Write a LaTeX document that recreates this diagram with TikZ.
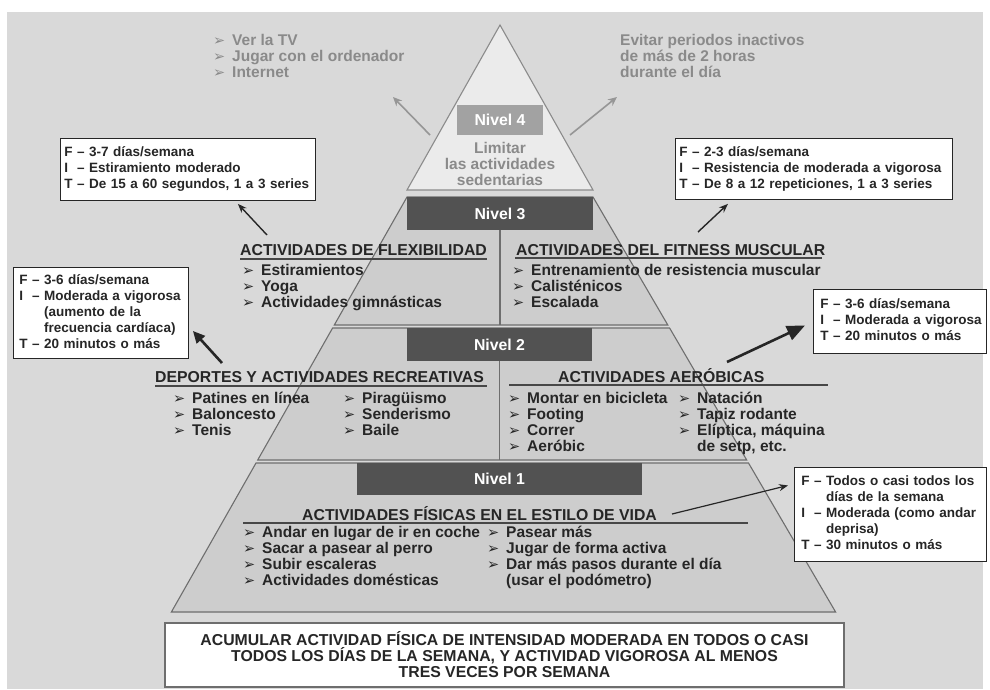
\documentclass[tikz,border=0pt]{standalone}
\usepackage{fontspec}
\setmainfont{Liberation Sans}
\newfontfamily\arrowfont{DejaVu Sans}
\usetikzlibrary{arrows.meta,positioning}

\definecolor{paper}{HTML}{D9D9D9}
\definecolor{bandgray}{HTML}{CDCDCD}
\definecolor{topgray}{HTML}{EBEBEB}
\definecolor{edgegray}{HTML}{6E6E6E}
\definecolor{bardark}{HTML}{525252}
\definecolor{barlight}{HTML}{A2A2A2}
\definecolor{softink}{HTML}{8A8A8A}
\definecolor{ink}{HTML}{262626}

\newcommand{\headtext}{\fontsize{15.8}{16}\selectfont\bfseries}
\newcommand{\itemtext}{\fontsize{15.5}{16.3}\selectfont\bfseries}
\newcommand{\boxtext}{\fontsize{13.5}{16}\selectfont\bfseries}
\newcommand{\itm}{\makebox[19pt][l]{\arrowfont\fontsize{14.5}{14.5}\selectfont ➢}}
\newcommand{\lst}[1]{\begin{tabular}[t]{@{}l@{}}#1\end{tabular}}
\newcommand{\fitlines}[1]{\begin{tabular}{@{}l@{\ }l@{\ }l@{}}#1\end{tabular}}

\begin{document}
\begin{tikzpicture}[x=1pt, y=-1pt,
    band/.style={fill=bandgray, draw=edgegray, line width=1.1pt},
    levelbar/.style={fill=bardark, text=white, font=\headtext, inner sep=0pt},
    heading/.style={anchor=base west, inner sep=0pt, font=\headtext, text=ink},
    items/.style={anchor=base west, inner sep=0pt, font=\itemtext, text=ink},
    note/.style={anchor=base west, inner sep=0pt, font=\itemtext, text=softink},
    infobox/.style={anchor=north west, draw=ink, fill=white, line width=0.9pt, align=left,
      font=\boxtext, text=ink, inner xsep=4pt, inner ysep=0pt},
    headrule/.style={draw=ink!85, line width=1.3pt},
    divider/.style={draw=edgegray, line width=1.1pt},
    pointer/.style={draw=ink, line width=1.4pt, -{Stealth[length=9pt, width=7pt]}},
    heavypointer/.style={draw=ink, line width=2.6pt, -{Triangle[length=12pt, width=11pt]}},
    softpointer/.style={draw=softink!90, line width=1.6pt, -{Stealth[length=9pt, width=8pt]}}]

  \useasboundingbox (0,0) rectangle (990,689);
  \fill[paper] (7,12) rectangle (983,689);

  % pyramid
  \draw[fill=topgray, draw=edgegray!80, line width=1.1pt] (500,25) -- (593,190) -- (407,190) -- cycle;
  \draw[band] (407,197) -- (593,197) -- (667.8,325) -- (334.3,325) -- cycle;
  \draw[band] (332.6,328) -- (669.6,328) -- (746.7,460) -- (257.7,460) -- cycle;
  \draw[band] (256,463) -- (748.5,463) -- (835.6,612) -- (171.4,612) -- cycle;

  \node[levelbar, fill=barlight, minimum width=86pt, minimum height=30pt] (lvlfour) at (500,120) {Nivel 4};
  \node[levelbar, minimum width=186pt, minimum height=33pt] (lvlthree) at (500,213.5) {Nivel 3};
  \node[levelbar, minimum width=185pt, minimum height=33pt] (lvltwo) at (499.5,344.5) {Nivel 2};
  \node[levelbar, minimum width=285pt, minimum height=32pt] (lvlone) at (499.5,479) {Nivel 1};
  \draw[divider] (lvlthree.south) -- ++(0,95);
  \draw[divider] (lvltwo.south) -- ++(0,99);

  \node[anchor=base, inner sep=0pt, font=\itemtext, text=softink] (limit) at (500,153)
    {\begin{tabular}[t]{@{}c@{}}Limitar\\las actividades\\sedentarias\end{tabular}};

  % sedentary notes
  \node[note] (screens) at (213,45) {\lst{\itm Ver la TV\\ \itm Jugar con el ordenador\\ \itm Internet}};
  \node[note] (breaks) at (620,45) {\lst{Evitar periodos inactivos\\de más de 2 horas\\durante el día}};
  \coordinate (screensfrom) at (430,135);
  \coordinate (screensto) at (393,97);
  \coordinate (breaksfrom) at (570,135);
  \coordinate (breaksto) at (617,97);
  \draw[softpointer] (screensfrom) -- (screensto);
  \draw[softpointer] (breaksfrom) -- (breaksto);

  % level 3
  \node[heading] (flexhead) at (240,255) {ACTIVIDADES DE FLEXIBILIDAD};
  \draw[headrule] (240,259) -- (487,259);
  \node[items] (flexlist) at (242,275) {\lst{\itm Estiramientos\\ \itm Yoga\\ \itm Actividades gimnásticas}};
  \node[heading] (musclehead) at (516,255) {ACTIVIDADES DEL FITNESS MUSCULAR};
  \draw[headrule] (515,258) -- (822,258);
  \node[items] (musclelist) at (512,275) {\lst{\itm Entrenamiento de resistencia muscular\\ \itm Calisténicos\\ \itm Escalada}};

  % level 2
  \node[heading] (sporthead) at (155,382) {DEPORTES Y ACTIVIDADES RECREATIVAS};
  \draw[headrule] (155,386) -- (487,386);
  \node[items] (sportlistA) at (173,403) {\lst{\itm Patines en línea\\ \itm Baloncesto\\ \itm Tenis}};
  \node[items] (sportlistB) at (343,403) {\lst{\itm Piragüismo\\ \itm Senderismo\\ \itm Baile}};
  \node[heading] (aerohead) at (558,382) {ACTIVIDADES AERÓBICAS};
  \draw[headrule] (509,385) -- (828,385);
  \node[items] (aerolistA) at (508,403) {\lst{\itm Montar en bicicleta\\ \itm Footing\\ \itm Correr\\ \itm Aeróbic}};
  \node[items] (aerolistB) at (678,403) {\lst{\itm Natación\\ \itm Tapiz rodante\\ \itm Elíptica, máquina\\ \hspace*{19pt}de setp, etc.}};

  % level 1
  \node[heading] (lifehead) at (302,520) {ACTIVIDADES FÍSICAS EN EL ESTILO DE VIDA};
  \draw[headrule] (243,523) -- (748,523);
  \node[items] (lifelistA) at (243,537) {\lst{\itm Andar en lugar de ir en coche\\ \itm Sacar a pasear al perro\\ \itm Subir escaleras\\ \itm Actividades domésticas}};
  \node[items] (lifelistB) at (487,537) {\lst{\itm Pasear más\\ \itm Jugar de forma activa\\ \itm Dar más pasos durante el día\\ \hspace*{19pt}(usar el podómetro)}};

  % F-I-T boxes
  \node[infobox, text width=247pt, minimum height=62pt] (flexbox) at (60,138)
    {\fitlines{F & – & 3-7 días/semana\\ I & – & Estiramiento moderado\\ T & – & De 15 a 60 segundos, 1 a 3 series}};
  \node[infobox, text width=269pt, minimum height=61pt] (musclebox) at (675,138)
    {\fitlines{F & – & 2-3 días/semana\\ I & – & Resistencia de moderada a vigorosa\\ T & – & De 8 a 12 repeticiones, 1 a 3 series}};
  \node[infobox, inner xsep=6pt, text width=163pt, minimum height=91pt] (sportbox) at (13,267)
    {\fitlines{F & – & 3-6 días/semana\\ I & – & Moderada a vigorosa\\ & & (aumento de la\\ & & frecuencia cardíaca)\\ T & – & 20 minutos o más}};
  \node[infobox, inner xsep=7pt, text width=159pt, minimum height=64pt] (aerobox) at (813,289)
    {\fitlines{F & – & 3-6 días/semana\\ I & – & Moderada a vigorosa\\ T & – & 20 minutos o más}};
  \node[infobox, inner xsep=7pt, text width=178pt, minimum height=94pt] (lifebox) at (794,467)
    {\fitlines{F & – & Todos o casi todos los\\ & & días de la semana\\ I & – & Moderada (como andar\\ & & deprisa)\\ T & – & 30 minutos o más}};

  \coordinate (flexfrom) at (267,235);
  \coordinate (musclefrom) at (698,232);
  \coordinate (sportfrom) at (222,363);
  \coordinate (aerofrom) at (727,362);
  \coordinate (lifefrom) at (672,514);
  \draw[pointer] (flexfrom) -- ([xshift=50pt, yshift=-3pt]flexbox.south);
  \draw[pointer] (musclefrom) -- ([xshift=-86pt, yshift=-4pt]musclebox.south);
  \draw[heavypointer] (sportfrom) -- ([xshift=4pt, yshift=-18pt]sportbox.east);
  \draw[heavypointer, -{Triangle[length=18pt, width=15pt]}] (aerofrom) -- ([xshift=-8pt, yshift=-4pt]aerobox.west);
  \draw[pointer, line width=1.2pt] (lifefrom) -- ([xshift=-6pt, yshift=29pt]lifebox.west);

  \node[draw=edgegray, line width=1.4pt, fill=white, minimum width=679pt, minimum height=64pt,
    align=center, font=\headtext, text=ink, inner sep=0pt] (summary) at (504.5,655)
    {ACUMULAR ACTIVIDAD FÍSICA DE INTENSIDAD MODERADA EN TODOS O CASI\\
     TODOS LOS DÍAS DE LA SEMANA, Y ACTIVIDAD VIGOROSA AL MENOS\\
     TRES VECES POR SEMANA};
\end{tikzpicture}
\end{document}
